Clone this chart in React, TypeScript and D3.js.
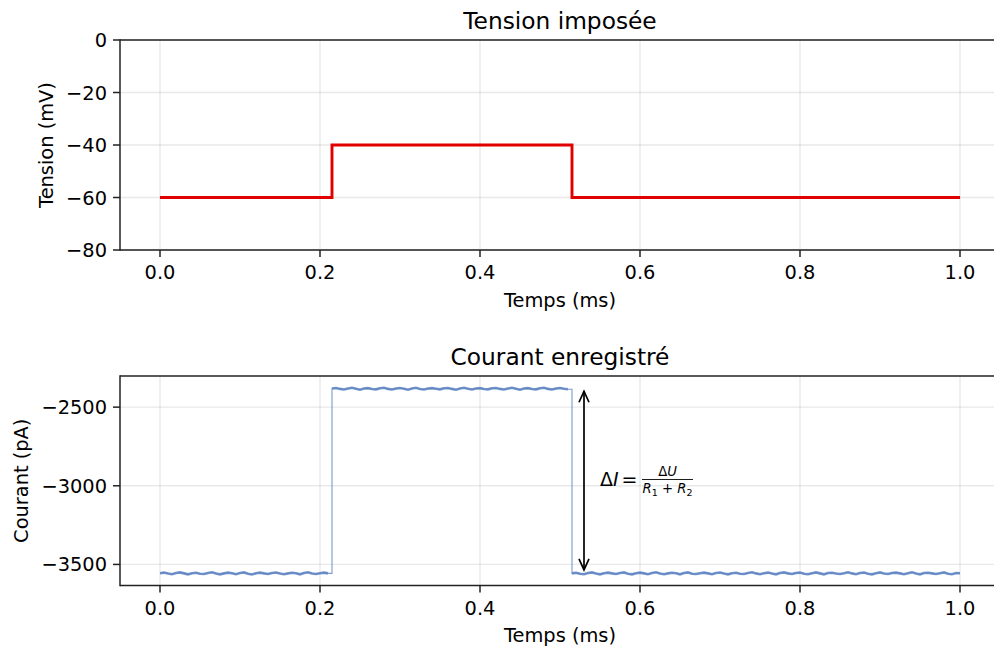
import React from "react";
import * as d3 from "d3";

// ---- Data ----
const xTicks = [0.0, 0.2, 0.4, 0.6, 0.8, 1.0];
const voltageTicks = [0, -20, -40, -60, -80];
const currentTicks = [-2500, -3000, -3500];

// voltage steps: [time (ms), level (mV)]
const voltageTimes = [0, 0.215, 0.515, 1.0];
const voltageLevels = [-60, -40, -60, -60];

// current samples, every 0.005 ms
const sampleDt = 0.005;
const currentBeforeStart = 0;
const currentBefore = [
  -3556, -3552, -3558, -3562, -3555, -3551, -3557, -3563, -3556, -3553,
  -3559, -3561, -3554, -3550, -3558, -3563, -3557, -3552, -3556, -3562,
  -3555, -3551, -3559, -3564, -3556, -3552, -3557, -3561, -3554, -3551,
  -3558, -3562, -3557, -3553, -3556, -3563, -3555, -3550, -3558, -3561,
  -3556, -3552, -3557,
];
const currentPulseStart = 0.215;
const currentPulse = [
  -2381, -2378, -2384, -2388, -2382, -2377, -2383, -2389, -2381, -2379,
  -2385, -2387, -2380, -2377, -2384, -2388, -2382, -2378, -2383, -2389,
  -2381, -2377, -2385, -2388, -2382, -2379, -2383, -2387, -2380, -2378,
  -2384, -2389, -2382, -2377, -2383, -2388, -2381, -2379, -2385, -2387,
  -2380, -2378, -2384, -2388, -2382, -2377, -2383, -2389, -2381, -2379,
  -2385, -2387, -2380, -2377, -2384, -2388, -2382, -2378, -2383, -2386,
];
const currentAfterStart = 0.515;
const currentAfter = [
  -3557, -3553, -3559, -3562, -3555, -3551, -3558, -3563, -3556, -3552,
  -3557, -3561, -3554, -3551, -3559, -3563, -3556, -3552, -3557, -3562,
  -3555, -3550, -3558, -3562, -3557, -3553, -3556, -3563, -3555, -3551,
  -3559, -3561, -3556, -3552, -3557, -3562, -3554, -3551, -3558, -3563,
  -3556, -3553, -3559, -3561, -3555, -3550, -3557, -3562, -3556, -3552,
  -3558, -3563, -3555, -3551, -3557, -3561, -3554, -3552, -3559, -3562,
  -3556, -3551, -3557, -3563, -3555, -3553, -3558, -3561, -3556, -3550,
  -3557, -3562, -3555, -3552, -3559, -3563, -3556, -3551, -3558, -3561,
  -3554, -3552, -3557, -3562, -3556, -3550, -3558, -3563, -3555, -3553,
  -3557, -3561, -3556, -3551, -3559, -3562, -3555, -3556,
];

// annotation arrow (time, from, to)
const arrowTime = 0.53;
const arrowFrom = -2383;
const arrowTo = -3557;
const annotTime = 0.55;
const annotLevel = -2960;

// ---- Layout ----
const W = 994;
const H = 650;
const FONT = "DejaVu Sans, sans-serif";
const TICK_FS = 19.4;
const TITLE_FS = 23.3;

const x = d3.scaleLinear().domain([-0.05, 1.05]).range([120, 1000]);
const yV = d3.scaleLinear().domain([-80, 0]).range([250, 40]);
const yI = d3.scaleLinear().domain([-3634, -2302]).range([585.5, 376]);

type Seg = { start: number; values: number[] };
const segments: Seg[] = [
  { start: currentBeforeStart, values: currentBefore },
  { start: currentPulseStart, values: currentPulse },
  { start: currentAfterStart, values: currentAfter },
];

function segPoints(s: Seg): [number, number][] {
  return s.values.map((v, i) => [s.start + i * sampleDt, v]);
}

function Axes({
  y,
  yTicks,
  yFmt,
  title,
  ylabel,
  ylabelX,
  children,
}: {
  y: d3.ScaleLinear<number, number>;
  yTicks: number[];
  yFmt: (v: number) => string;
  title: string;
  ylabel: string;
  ylabelX: number;
  children?: React.ReactNode;
}) {
  const [y0, y1] = y.range(); // bottom, top
  const [x0, x1] = x.range();
  const cy = (y0 + y1) / 2;
  return (
    <g>
      {xTicks.map((t) => (
        <line key={"gx" + t} x1={x(t)} x2={x(t)} y1={y1} y2={y0} stroke="#b0b0b0" strokeOpacity={0.28} strokeWidth={1.4} />
      ))}
      {yTicks.map((t) => (
        <line key={"gy" + t} x1={x0} x2={x1} y1={y(t)} y2={y(t)} stroke="#b0b0b0" strokeOpacity={0.28} strokeWidth={1.4} />
      ))}
      {children}
      <line x1={x0} x2={x0} y1={y0 + 0.75} y2={y1 - 0.75} stroke="#222" strokeWidth={1.5} />
      <line x1={x0} x2={x1} y1={y0} y2={y0} stroke="#222" strokeWidth={1.5} />
      <line x1={x0} x2={x1} y1={y1} y2={y1} stroke="#222" strokeWidth={1.5} />
      <line x1={x1} x2={x1} y1={y0} y2={y1} stroke="#222" strokeWidth={1.5} />
      {xTicks.map((t) => (
        <g key={"tx" + t}>
          <line x1={x(t)} x2={x(t)} y1={y0} y2={y0 + 7} stroke="#222" strokeWidth={1.5} />
          <text x={x(t)} y={y0 + 29} textAnchor="middle" fontSize={TICK_FS} fontFamily={FONT} fill="#000">
            {t.toFixed(1)}
          </text>
        </g>
      ))}
      {yTicks.map((t) => (
        <g key={"ty" + t}>
          <line x1={x0 - 7} x2={x0} y1={y(t)} y2={y(t)} stroke="#222" strokeWidth={1.5} />
          <text x={x0 - 13} y={y(t) + 7} textAnchor="end" fontSize={TICK_FS} fontFamily={FONT} fill="#000">
            {yFmt(t)}
          </text>
        </g>
      ))}
      <text x={(x0 + x1) / 2} y={y0 + 56.5} textAnchor="middle" fontSize={TICK_FS} fontFamily={FONT} fill="#000">
        Temps (ms)
      </text>
      <text
        transform={`translate(${ylabelX},${cy}) rotate(-90)`}
        textAnchor="middle"
        fontSize={TICK_FS}
        fontFamily={FONT}
        fill="#000"
      >
        {ylabel}
      </text>
      <text x={(x0 + x1) / 2} y={y1 - 11.5} textAnchor="middle" fontSize={TITLE_FS} fontFamily={FONT} fill="#000">
        {title}
      </text>
    </g>
  );
}

const fmtMinus = (v: number) => (v < 0 ? "\u2212" + Math.abs(v) : String(v));

export default function App() {
  const vPts: [number, number][] = voltageTimes.map((t, i) => [t, voltageLevels[i]]);
  const vLine = d3
    .line<[number, number]>()
    .x((d) => x(d[0]))
    .y((d) => yV(d[1]))
    .curve(d3.curveStepAfter);

  const allPts: [number, number][] = [];
  segments.forEach((s, si) => {
    const pts = segPoints(s);
    if (si > 0 && allPts.length) {
      allPts.push([pts[0][0], allPts[allPts.length - 1][1]]);
    }
    allPts.push(...pts);
  });
  const iLine = d3
    .line<[number, number]>()
    .x((d) => x(d[0]))
    .y((d) => yI(d[1]));

  const ax = x(arrowTime);
  const ayTop = yI(arrowFrom) + 2.5;
  const ayBot = yI(arrowTo) - 3.5;
  const head = 11;
  const hw = 5;

  const tx = x(annotTime);
  const ty = yI(annotLevel);
  const fracX0 = tx + 42;
  const fracX1 = tx + 93;
  const fracC = (fracX0 + fracX1) / 2;

  const blue = "#5d82c2";

  return (
    <svg
      width={W}
      height={H}
      viewBox={`0 0 ${W} ${H}`}
      style={{ position: "absolute", left: 0, top: 0, background: "#fff" }}
    >
      <rect width={W} height={H} fill="#fff" />
      <Axes y={yV} yTicks={voltageTicks} yFmt={fmtMinus} title="Tension imposée" ylabel="Tension (mV)" ylabelX={53}>
        <path d={vLine(vPts) || ""} fill="none" stroke="#e00000" strokeWidth={2.9} strokeLinejoin="miter" />
      </Axes>
      <Axes y={yI} yTicks={currentTicks} yFmt={fmtMinus} title="Courant enregistré" ylabel="Courant (pA)" ylabelX={28}>
        <path d={iLine(allPts) || ""} fill="none" stroke={blue} strokeOpacity={0.8} strokeWidth={1.1} />
        {segments.map((s, i) => (
          <path key={i} d={iLine(segPoints(s)) || ""} fill="none" stroke={blue} strokeOpacity={0.85} strokeWidth={2.6} />
        ))}
        <line x1={ax} x2={ax} y1={ayTop} y2={ayBot} stroke="#000" strokeWidth={1.7} />
        <path
          d={`M${ax - hw},${ayTop + head} L${ax},${ayTop} L${ax + hw},${ayTop + head}`}
          fill="none"
          stroke="#000"
          strokeWidth={1.7}
        />
        <path
          d={`M${ax - hw},${ayBot - head} L${ax},${ayBot} L${ax + hw},${ayBot - head}`}
          fill="none"
          stroke="#000"
          strokeWidth={1.7}
        />
        <text x={tx} y={ty + 6.5} fontSize={19} fontFamily={FONT} fill="#000">
          <tspan>Δ</tspan>
          <tspan fontStyle="italic">I</tspan>
          <tspan dx={3}>=</tspan>
        </text>
        <line x1={fracX0} x2={fracX1} y1={ty} y2={ty} stroke="#000" strokeWidth={0.9} />
        <text x={fracC} y={ty - 3.5} textAnchor="middle" fontSize={13.2} fontFamily={FONT} fill="#000">
          <tspan>Δ</tspan>
          <tspan fontStyle="italic">U</tspan>
        </text>
        <text x={fracC} y={ty + 14} textAnchor="middle" fontSize={13.2} fontFamily={FONT} fill="#000">
          <tspan fontStyle="italic">R</tspan>
          <tspan fontSize={9.5} dy={2.5}>1</tspan>
          <tspan dy={-2.5}> + </tspan>
          <tspan fontStyle="italic">R</tspan>
          <tspan fontSize={9.5} dy={2.5}>2</tspan>
        </text>
      </Axes>
    </svg>
  );
}
